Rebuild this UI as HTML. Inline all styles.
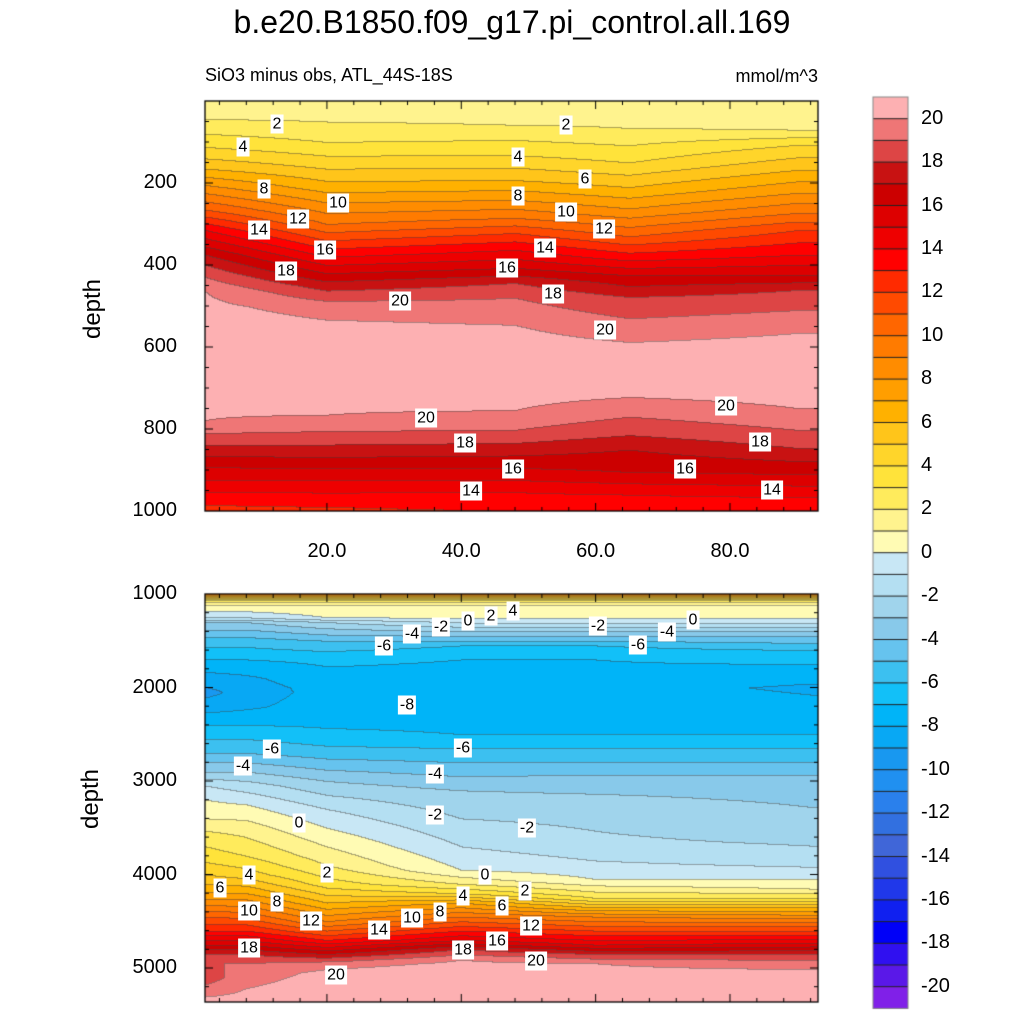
<!DOCTYPE html>
<html><head><meta charset="utf-8">
<style>
body{margin:0;background:#fff;width:1024px;height:1024px;position:relative;overflow:hidden;font-family:"Liberation Sans",sans-serif;color:#000}
.t{position:absolute;white-space:nowrap}
.cl{position:absolute;background:#fff;font-size:16px;line-height:17px;padding:1px 2px;transform:translate(-50%,-50%)}
canvas{position:absolute;left:0;top:0}
</style></head><body>
<div class="t" style="left:0;width:1024px;text-align:center;top:4px;font-size:32px">b.e20.B1850.f09_g17.pi_control.all.169</div>
<div class="t" style="left:205px;top:65px;font-size:18px">SiO3 minus obs, ATL_44S-18S</div>
<div class="t" style="left:700px;width:118px;text-align:right;top:66px;font-size:18px">mmol/m^3</div>
<div class="t" style="left:58px;top:295px;font-size:24px;transform:rotate(-90deg);transform-origin:center;width:70px;text-align:center">depth</div>
<div class="t" style="left:56px;top:785px;font-size:24px;transform:rotate(-90deg);transform-origin:center;width:70px;text-align:center">depth</div>
<canvas id="cv" width="1024" height="1024"></canvas>
<div id="labels"></div>
<script>
// ---- data ----
const topCols=[2,20,48,65,90];
const topD0=[0,44,80,112,140,165,185,205,225,245,265,282,298,315,335,355,375,400,430,466,600,778,810,840,866,893,924,954,985,1000];
const topV0=[1.5,2,3,4,5,6,7,8,9,10,11,12,13,14,15,16,17,18,19,20,21,20,19,18,17,16,15,14,13,12.7];
const topD1=[0,50,100,150,210,260,300,340,380,420,450,500,600,765,805,838,868,896,925,955,990,1000];
const topV1=[1.4,2,3,4.5,6.5,8.5,10,12,14,16,17.5,19.5,21,20,19,18,17,16,15,14,13,12.8];
const topD2=[0,58,132,193,241,285,322,363,407,444,480,546,650,754,802,834,895,954,1000];
const topV2=[1.3,2,4,6,8,10,12,14,16,18,19,20,21,20,19,18,16,14,13];
const topD3=[0,66,150,210,262,330,380,425,478,530,588,650,722,770,815,850,905,960,1000];
const topV3=[1.3,2,4,6,8,11,13.5,16,18,19,20,21,20,19,18,17,16,14,13.2];
const topD4=[0,70,107,168,224,273,315,375,424,461,510,566,650,749,802,846,910,966,1000];
const topV4=[1.2,2,4,6,8,10,12,14,16,18,19,20,21,20,19,18,16,14,13.3];
const botCols=[2,8,20,40,60,92];
const botD0=[1000,1030,1060,1120,1250,1300,1500,1700,1900,2050,2200,2400,2700,2900,3050,3200,3400,3600,3800,4000,4150,4300,4450,4600,4750,4850,4950,5100,5250,5360];
const botV0=[10,6,3,1,-1,-3,-5.5,-7,-8.5,-9.3,-8.5,-7,-5,-3,-1,0,1,2.5,3.5,5,6.5,8.5,11,13,16,18,19,18.5,19.5,20.5];
const botD1=[1000,1030,1060,1120,1250,1300,1500,1700,1900,2050,2200,2400,2700,2900,3050,3250,3500,3800,4000,4200,4400,4600,4750,4850,4950,5100,5360];
const botV1=[10,6,3,1,-1,-3,-5.5,-7,-8.2,-8.6,-8.2,-7,-5,-3,-1.5,0,1.5,3,4.5,7,10,13,16,18,19,19.6,20.5];
const botD2=[1000,1030,1060,1120,1250,1300,1500,1700,2000,2300,2500,2700,3000,3300,3600,3900,4100,4300,4500,4700,4850,4950,5050,5360];
const botV2=[10,6,3,1,0,-2,-5,-6.8,-7.6,-7.4,-6.8,-5.5,-3,-1,0.5,2,3.5,6,9,13,17,19.5,20.3,20.8];
const botD3=[1000,1030,1060,1120,1260,1350,1450,1550,1700,2000,2300,2500,2650,2800,2950,3100,3400,3700,3950,4100,4200,4300,4400,4500,4600,4700,4800,4910,5000,5360];
const botV3=[10,6,3,1,0,-2,-4,-6,-7,-7.5,-7.3,-7,-6,-5,-4,-3,-2,-1,0,2,4,7,9,11,13,15,18,20,20.5,21];
const botD4=[1000,1030,1060,1120,1260,1350,1450,1550,1700,2000,2300,2500,2650,2800,3000,3300,3650,3850,4050,4150,4250,4350,4450,4550,4650,4750,4850,4950,5360];
const botV4=[10,6,3,1,0,-2,-4,-6,-7,-7.5,-7.3,-7,-6,-5,-3.5,-2.4,-1.8,-1,0,1.5,3,6,9,11,13,15,18,20,21];
const botD5=[1000,1030,1060,1120,1260,1350,1450,1600,1750,2000,2300,2500,2650,2800,3000,3500,3850,4050,4150,4250,4350,4450,4550,4650,4750,4850,4950,5050,5360];
const botV5=[10,6,3,1,0,-2,-4,-6,-7,-8.2,-7.4,-7,-6,-5,-3.5,-2.6,-1.5,0,1,3,6,8.5,11,13,15.5,18,19.5,20.3,20.8];
const levelColors=["#fdb0b2","#ef7676","#dd4545","#c81212","#cc0000","#dd0000","#ee0000","#ff0000","#ff2a00","#ff4a00","#ff6600","#ff7b00","#ff8c00","#ff9e00","#ffb100","#ffc51a","#ffd52a","#ffe33a","#ffeb5c","#fff38e","#fffbb4",
"#c8e7f5","#b4dff2","#a0d4ec","#88c9ea","#66c3ee","#3cc0f0","#12c0f8","#00b4f8","#08a8f4","#1898f0","#2090f0","#2a80ec","#3270e0","#4066d8","#3050e0","#2038ea","#1020f0","#0000f8","#3010f0","#5a18e8","#8020e8"];
const cbLabels=["20","18","16","14","12","10","8","6","4","2","0","-2","-4","-6","-8","-10","-12","-14","-16","-18","-20"];
const topYTicks=[200,400,600,800,1000];
const botYTicks=[1000,2000,3000,4000,5000];
const xTicks=[20,40,60,80];
// ---- axes ----
const PX0=205,PX1=818,XMIN=1.85,XMAX=93.1;
const sx=v=>PX0+(v-XMIN)/(XMAX-XMIN)*(PX1-PX0);
const TY0=101,TY1=511,syT=d=>TY0+d*(TY1-TY0)/1000;
const BY0=594,BK=0.0935,syB=d=>BY0+(d-1000)*BK;
const invT=y=>(y-TY0)*1000/(TY1-TY0), invB=y=>(y-BY0)/BK+1000, invX=x=>XMIN+(x-PX0)/(PX1-PX0)*(XMAX-XMIN);
function li(ds,vs,d){if(d<=ds[0])return vs[0];for(let i=1;i<ds.length;i++){if(d<=ds[i]){const t=(d-ds[i-1])/(ds[i]-ds[i-1]);return vs[i-1]+t*(vs[i]-vs[i-1]);}}return vs[vs.length-1];}
const topP=[[topD0,topV0],[topD1,topV1],[topD2,topV2],[topD3,topV3],[topD4,topV4]];
const botP=[[botD0,botV0],[botD1,botV1],[botD2,botV2],[botD3,botV3],[botD4,botV4],[botD5,botV5]];
function field(cols,prof,x,d){const vals=prof.map(p=>li(p[0],p[1],d));return li(cols,vals,x);}
function band(v){let i=20-Math.floor(v);if(v>=20)i=0;return Math.max(0,Math.min(41,i));}
function hex(h){return [parseInt(h.substr(1,2),16),parseInt(h.substr(3,2),16),parseInt(h.substr(5,2),16)];}
const rgb=levelColors.map(hex);
const cv=document.getElementById('cv'),ctx=cv.getContext('2d');
function drawPanel(y0,y1,inv,cols,prof){
  const W=PX1-PX0,H=y1-y0,img=ctx.createImageData(W,H),B=new Int8Array(W*H);
  for(let j=0;j<H;j++){const d=inv(y0+j+0.5);for(let i=0;i<W;i++){B[j*W+i]=band(field(cols,prof,invX(PX0+i+0.5),d));}}
  for(let j=0;j<H;j++)for(let i=0;i<W;i++){const b=B[j*W+i];let c=rgb[b];const k=(j*W+i)*4;
    const edge=(j>0&&B[(j-1)*W+i]!==b)||(i>0&&B[j*W+i-1]!==b);
    const f=edge?0.55:1,a=edge?30:0;
    img.data[k]=c[0]*f+a;img.data[k+1]=c[1]*f+a;img.data[k+2]=c[2]*f+a;
    img.data[k+3]=255;}
  ctx.putImageData(img,PX0,y0);
}
drawPanel(TY0,TY1,invT,topCols,topP);
drawPanel(BY0,1002,invB,botCols,botP);
ctx.strokeStyle='#000';ctx.lineWidth=1.3;
ctx.strokeRect(PX0,TY0,PX1-PX0,TY1-TY0);ctx.strokeRect(PX0,BY0,PX1-PX0,1002-BY0);
function ln(a,b,c,d){ctx.beginPath();ctx.moveTo(a,b);ctx.lineTo(c,d);ctx.stroke();}
ctx.lineWidth=1;
for(let v=4;v<=92;v+=4){const x=sx(v),L=(v%20===0)?8:4;[[TY0,1],[TY1,-1],[BY0,1],[1002,-1]].forEach(([y,s])=>ln(x,y,x,y+s*L));}
for(let d=50;d<1000;d+=50){const y=syT(d),L=(d%200===0)?8:4;ln(PX0,y,PX0+L,y);ln(PX1,y,PX1-L,y);}
for(let d=1200;d<=5300;d+=200){const y=syB(d),L=(d%1000===0)?8:4;ln(PX0,y,PX0+L,y);ln(PX1,y,PX1-L,y);}
const CBX=873,CBW=35,CB0=97,CBH=21.7;
for(let i=0;i<42;i++){ctx.fillStyle=levelColors[i];ctx.fillRect(CBX,CB0+i*CBH,CBW,CBH+0.5);}
ctx.strokeStyle='#222';for(let i=1;i<42;i++){ln(CBX,CB0+i*CBH,CBX+CBW,CB0+i*CBH);}
ctx.strokeStyle='#888';ctx.strokeRect(CBX,CB0,CBW,42*CBH);
const L=document.getElementById('labels');
function txt(s,x,y,name,st){const e=document.createElement('div');e.className='t';e.textContent=s;e.style.cssText+=st;e.style.left=x+'px';e.style.top=y+'px';


L.appendChild(e);}
topYTicks.forEach(d=>txt(String(d),75,syT(d)-12,'y-tick-label','width:102px;text-align:right;font-size:20px'));
botYTicks.forEach(d=>txt(String(d),75,syB(d)-12,'y-tick-label','width:102px;text-align:right;font-size:20px'));
xTicks.forEach(v=>txt(v.toFixed(1),sx(v)-40,540,'x-tick-label','width:80px;text-align:center;font-size:20px'));
cbLabels.forEach((s,i)=>txt(s,921,CB0+CBH+i*2*CBH-12,'colorbar-label','font-size:20px'));
const clTop=[["2",277,124],["2",566,125],["4",243,147],["4",518,157],["6",585,179],["8",264,189],["8",518,196],["10",338,203],["10",566,212],["12",298,219],["12",604,229],["14",259,230],["14",545,248],["16",325,250],["16",507,268],["18",286,271],["18",553,294],["20",400,301],["20",605,330],["20",426,418],["20",726,406],["18",465,443],["18",760,442],["16",513,469],["16",685,469],["14",471,491],["14",772,490]];
const clBot=[["4",513,611],["2",491,616],["0",468,621],["-2",441,627],["-4",412,634],["-6",384,646],["-2",598,626],["-4",667,632],["-6",638,645],["0",693,620],["-8",407,705],["-6",272,749],["-4",243,766],["-6",463,748],["-4",435,774],["-2",435,815],["-2",527,828],["0",299,823],["2",327,873],["4",249,875],["6",220,888],["0",485,875],["2",525,891],["4",463,896],["6",502,906],["8",277,902],["10",249,911],["8",440,912],["10",412,918],["12",311,921],["14",379,930],["12",531,926],["16",497,941],["18",249,948],["18",463,950],["20",336,975],["20",536,961]];
clTop.concat(clBot).forEach(([s,x,y])=>{const e=document.createElement('div');e.className='cl';e.textContent=s;e.style.left=x+'px';e.style.top=y+'px';


L.appendChild(e);});
</script>
</body></html>
